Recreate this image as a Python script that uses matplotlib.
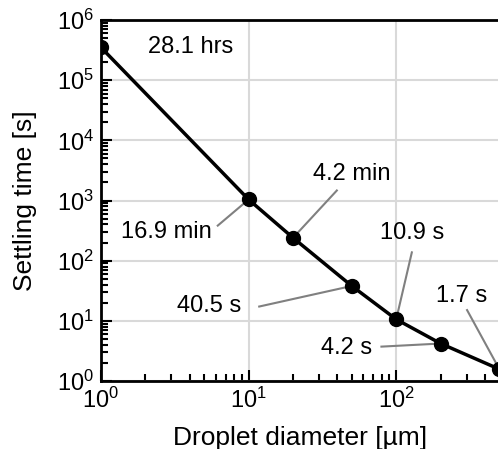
import matplotlib
matplotlib.use('Agg')
import matplotlib.pyplot as plt

plt.rcParams['font.family'] = ['Liberation Sans', 'DejaVu Sans']
plt.rcParams['mathtext.fontset'] = 'custom'
plt.rcParams['mathtext.rm'] = 'Liberation Sans'

# droplet diameter [um] and settling time [s]
diameter = [1, 10, 20, 50, 100, 200, 500]
settling = [3.5e5, 1040, 240, 38, 10.6, 4.2, 1.57]
labels = ['28.1 hrs', '16.9 min', '4.2 min', '40.5 s', '10.9 s', '4.2 s', '1.7 s']

# label centre (data coords) and start of the grey leader line (None = no line)
label_pos = [(4.03, 3.5e5), (2.77, 297), (49.6, 2780), (5.39, 17.8),
             (129, 293), (45.9, 3.59), (277, 26.1)]
leader_start = [None, (6.18, 383), (39.6, 1468), (11.8, 17.3),
                (127.6, 137.5), (79.4, 3.73), (302, 15.1)]

fig = plt.figure(figsize=(4.98, 4.49), dpi=100)
ax = fig.add_axes([0.2028, 0.1514, 0.8, 0.8040])

ax.plot(diameter, settling, color='black', lw=2.5, marker='o', ms=10, zorder=3)

for i in range(len(diameter)):
    ax.text(label_pos[i][0], label_pos[i][1], labels[i], fontsize=17,
            ha='center', va='center')
    if leader_start[i] is not None:
        ax.plot([leader_start[i][0], diameter[i]], [leader_start[i][1], settling[i]],
                color='#808080', lw=1.5, zorder=2)

ax.set_xscale('log')
ax.set_yscale('log')
ax.set_xlim(1, 500)
ax.set_ylim(1, 1e6)
ax.grid(True, which='major', color='#d9d9d9', lw=1.5)
ax.set_axisbelow(True)

ax.tick_params(which='both', direction='in', top=False, right=False, labelsize=17, width=1.5)
ax.tick_params(which='major', length=8, pad=5)
ax.tick_params(which='minor', length=5)
for s in ax.spines.values():
    s.set_linewidth(2)

ax.set_xlabel('Droplet diameter [µm]', fontsize=19, labelpad=9)
ax.set_ylabel('Settling time [s]', fontsize=19, labelpad=14)

fig.savefig('out.png', dpi=100)
